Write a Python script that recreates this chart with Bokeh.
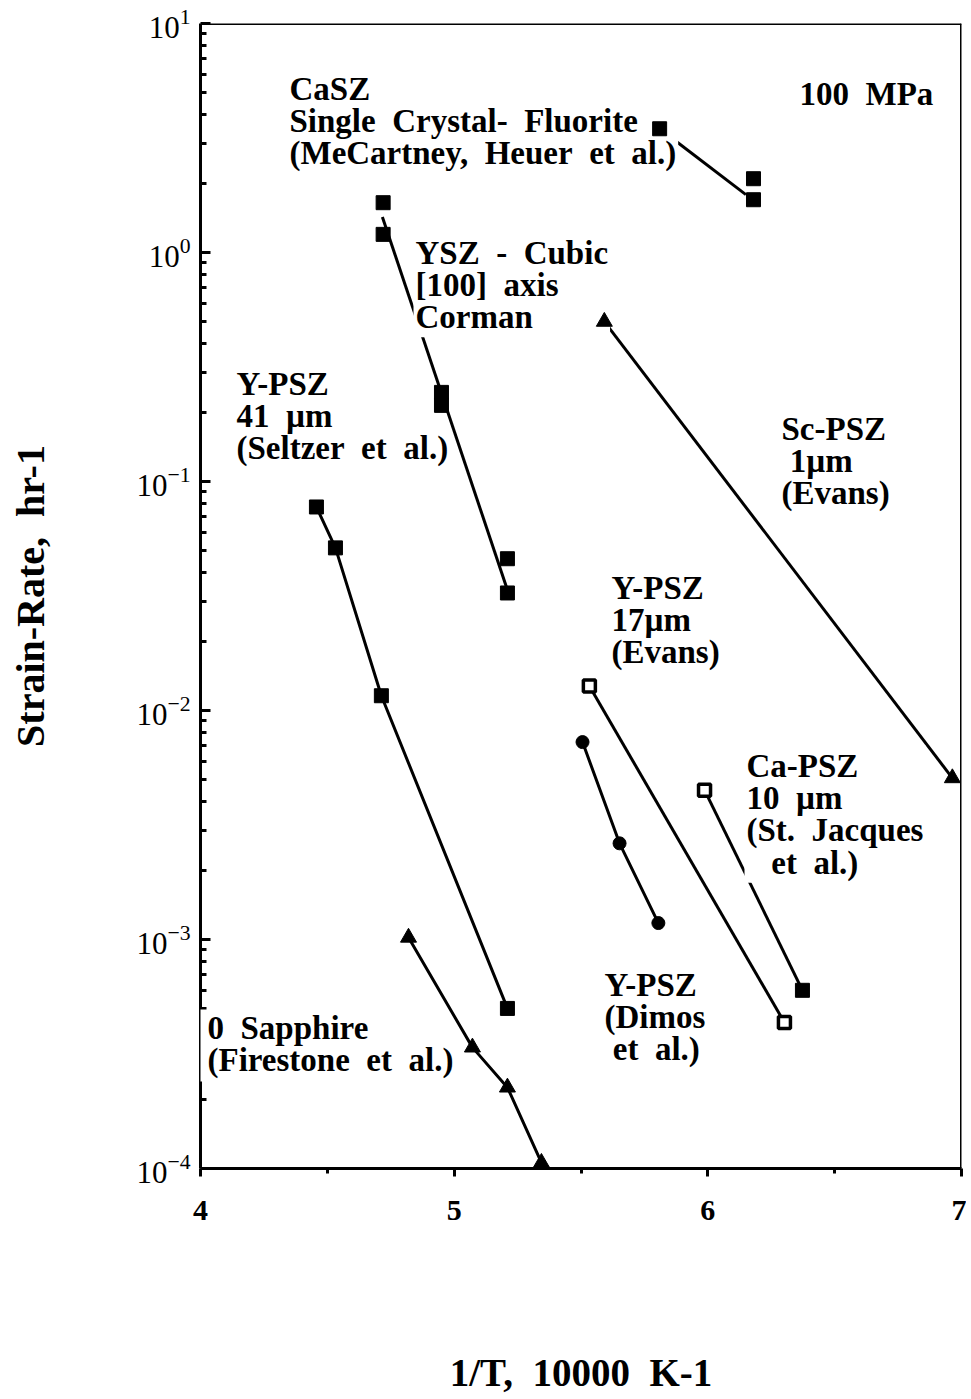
from bokeh.plotting import figure
from bokeh.models import Label, Span, FixedTicker, BoxAnnotation
from bokeh.embed import file_html
from bokeh.resources import INLINE

# ---------------- data ----------------
# CaSZ single crystal fluorite (MeCartney, Heuer et al.)
casz_x = [5.81, 6.18, 6.18]
casz_y = [3.47, 2.10, 1.70]
casz_fit_x = [5.81, 6.15]
casz_fit_y = [3.47, 1.79]

# YSZ cubic [100] axis (Corman)
ysz_x = [4.72, 4.72, 4.95, 4.95, 5.21, 5.21]
ysz_y = [1.65, 1.20, 0.245, 0.215, 0.046, 0.0326]
ysz_fit_x = [4.717, 5.21]
ysz_fit_y = [1.43, 0.0336]

# Y-PSZ 41 um (Seltzer et al.)
seltzer_x = [4.457, 4.532, 4.713, 5.210]
seltzer_y = [0.0774, 0.0513, 0.0116, 0.00050]

# Sc-PSZ 1 um (Evans)
scpsz_x = [5.592, 6.964]
scpsz_y = [0.499, 0.00507]

# Y-PSZ 17 um (Evans)
evans17_x = [5.533, 6.302]
evans17_y = [0.0128, 0.000434]

# Y-PSZ (Dimos et al.)
dimos_x = [5.506, 5.652, 5.805]
dimos_y = [0.00728, 0.00263, 0.00118]

# Ca-PSZ 10 um (St. Jacques et al.)  first point open, second filled
capsz_x = [5.987, 6.373]
capsz_y = [0.00449, 0.000600]

# Sapphire (Firestone et al.)
sapphire_x = [4.820, 5.072, 5.210, 5.344]
sapphire_y = [0.00102, 0.000338, 0.000226, 0.000106]

x_ticks = [4, 5, 6, 7]
x_minor = [4.5, 5.5, 6.5]
y_ticks = [1e-4, 1e-3, 1e-2, 1e-1, 1e0, 1e1]
y_minor = [m * 10.0 ** e for e in range(-4, 1) for m in range(2, 10)]

# ---------------- figure ----------------
FL, FW, FT, FH = 200, 761, 23, 1145  # frame in page pixels
W, H = 966, 1399


def dx(px):
    return 4 + 3 * (px - FL) / FW


def dy(py):
    return 10 ** (1 - 5 * (py - FT) / FH)


p = figure(width=W, height=H, x_range=(4, 7), y_range=(1e-4, 1e1),
           y_axis_type="log", output_backend="svg", toolbar_location=None,
           min_border_left=FL, min_border_right=W - FL - FW, min_border_top=FT,
           min_border_bottom=H - FT - FH)
p.xgrid.visible = False
p.ygrid.visible = False
p.outline_line_color = None
p.background_fill_color = "white"
p.border_fill_color = "white"

SERIF = "Liberation Serif"
SP = "\u00a0 "  # wide word space
NB = "\u00a0"

xa = p.xaxis[0]
xa.ticker = FixedTicker(ticks=x_ticks, minor_ticks=x_minor)
xa.axis_line_width = 3
xa.major_tick_line_width = 3
xa.minor_tick_line_width = 3
xa.major_tick_in = 0
xa.major_tick_out = 8
xa.minor_tick_in = 0
xa.minor_tick_out = 5
xa.major_label_text_font = SERIF
xa.major_label_text_font_style = "bold"
xa.major_label_text_font_size = "30px"
xa.major_label_text_color = "black"
xa.major_label_standoff = 24
xa.axis_label = "1/T," + SP + "10000" + SP + "K-1"
xa.axis_label_text_font = SERIF
xa.axis_label_text_font_style = "bold"
xa.axis_label_text_font_size = "39px"
xa.axis_label_text_color = "black"
xa.axis_label_standoff = 128

ya = p.yaxis[0]
ya.ticker = FixedTicker(ticks=y_ticks, minor_ticks=y_minor)
ya.axis_line_width = 3
ya.major_tick_line_width = 3
ya.minor_tick_line_width = 3
ya.major_tick_in = 10
ya.major_tick_out = 0
ya.minor_tick_in = 6
ya.minor_tick_out = 0
ya.major_label_text_font = SERIF
ya.major_label_text_font_style = "normal"
ya.major_label_text_font_size = "31px"
ya.major_label_text_color = "black"
ya.major_label_standoff = 10
ya.axis_label = "Strain-Rate," + SP + "hr-1"
ya.axis_label_text_font = SERIF
ya.axis_label_text_font_style = "bold"
ya.axis_label_text_font_size = "40px"
ya.axis_label_text_color = "black"
ya.axis_label_standoff = 80

# top and right frame lines
p.add_layout(Span(location=1e1, dimension="width", line_color="black",
                  line_width=3, level="guide"))
p.add_layout(Span(location=7, dimension="height", line_color="black",
                  line_width=3, level="guide"))

# ---------------- lines (under labels) ----------------
LW = 3
for xs, ys in [(casz_fit_x, casz_fit_y), (ysz_fit_x, ysz_fit_y),
               (seltzer_x, seltzer_y), (scpsz_x, scpsz_y),
               (evans17_x, evans17_y), (dimos_x, dimos_y),
               (capsz_x, capsz_y), (sapphire_x, sapphire_y)]:
    p.line(xs, ys, line_color="black", line_width=LW, level="underlay")

# ---------------- markers (over labels) ----------------
p.scatter(casz_x, casz_y, marker="square", size=14, color="black", level="overlay")
p.scatter(ysz_x, ysz_y, marker="square", size=14, color="black", level="overlay")
p.scatter(seltzer_x, seltzer_y, marker="square", size=14, color="black", level="overlay")
p.scatter(scpsz_x, scpsz_y, marker="triangle", size=16, color="black", level="overlay")
p.scatter(evans17_x, evans17_y, marker="square", size=12, fill_color="white",
          line_color="black", line_width=3.5, level="overlay")
p.scatter(dimos_x, dimos_y, marker="circle", size=13, color="black", level="overlay")
p.scatter(capsz_x[:1], capsz_y[:1], marker="square", size=12, fill_color="white",
          line_color="black", line_width=3.5, level="overlay")
p.scatter(capsz_x[1:], capsz_y[1:], marker="square", size=14, color="black", level="overlay")
p.scatter(sapphire_x, sapphire_y, marker="triangle", size=16, color="black", level="overlay")

# white gap in the left axis behind the sapphire note
p.add_layout(BoxAnnotation(left=dx(194), right=dx(208), top=dy(1009), bottom=dy(1081),
                           fill_color="white", fill_alpha=1.0, line_color=None,
                           level="annotation"))

# ---------------- text blocks ----------------
# (x px, first-line centre px, lines, opaque background?)
blocks = [
    (287, 88, ["CaSZ", "Single" + SP + "Crystal-" + SP + "Fluorite",
               "(MeCartney," + SP + "Heuer" + SP + "et" + SP + "al.)"], True),
    (797, 93, ["100" + SP + "MPa"], False),
    (413, 252, ["YSZ" + SP + "-" + SP + "Cubic", "[100]" + SP + "axis", "Corman"], True),
    (234, 383, ["Y-PSZ", "41" + SP + "\u00b5m", "(Seltzer" + SP + "et" + SP + "al.)"], False),
    (779, 428, ["Sc-PSZ", NB + "1\u00b5m", "(Evans)"], False),
    (609, 587, ["Y-PSZ", "17\u00b5m", "(Evans)"], False),
    (744, 765, ["Ca-PSZ", "10" + SP + "\u00b5m", "(St." + SP + "Jacques",
                NB * 3 + "et" + SP + "al.)"], True),
    (602, 984, ["Y-PSZ", "(Dimos", NB + "et" + SP + "al.)"], False),
    (205, 1027, ["0" + SP + "Sapphire", "(Firestone" + SP + "et" + SP + "al.)"], False),
]
FS = 33
for px, py, lines, opaque in blocks:
    p.add_layout(Label(x=dx(px), y=dy(py - 20), text="\n".join(lines),
                       text_font=SERIF, text_font_style="bold",
                       text_font_size=f"{FS}px", text_line_height=0.9,
                       text_align="left", text_baseline="top",
                       text_color="black",
                       background_fill_color="white" if opaque else None,
                       padding=2))

open("out.html", "w").write(file_html(p, INLINE))
